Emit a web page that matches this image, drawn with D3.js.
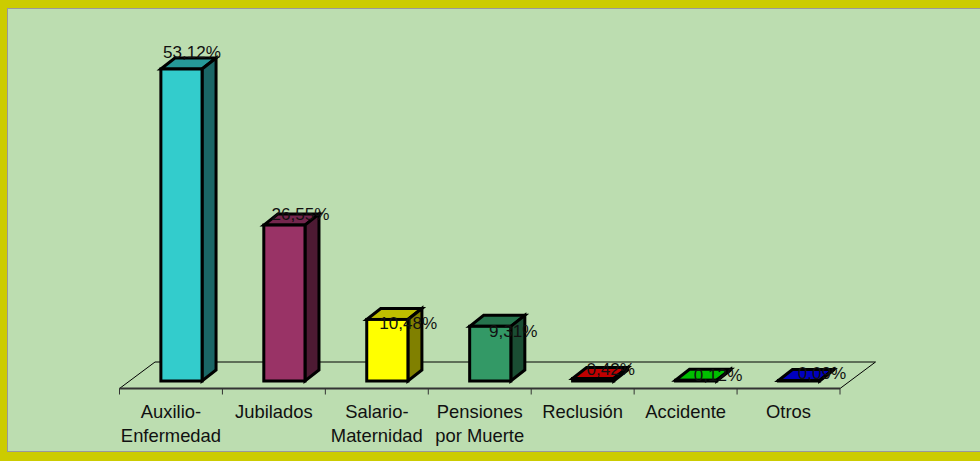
<!DOCTYPE html>
<html>
<head>
<meta charset="utf-8">
<script src="https://d3js.org/d3.v7.min.js"></script>
<style>
  html, body { margin: 0; padding: 0; background: #cccc00; }
  svg { display: block; }
  text { font-family: "Liberation Sans", Arial, sans-serif; fill: #111; }
</style>
</head>
<body>
<div id="chart"></div>
<script>
// data
var categories = ["Auxilio-|Enfermedad", "Jubilados", "Salario-|Maternidad", "Pensiones|por Muerte", "Reclusión", "Accidente", "Otros"];
var values = [53.12, 26.55, 10.48, 9.31, 0.42, 0.12, 0.09];
var barColors = ["#33cccc", "#993366", "#ffff00", "#339966", "#ff0000", "#00ff00", "#0000ff"];
// the labels sit a bit off the bars in the original, nudged by hand
var labelDx = [10.5, 16, 21, 23, 17.5, 22, 23];
var labelBase = [58, 220, 329, 337, 375, 381, 379];

var width = 980;
var height = 461;
var axisY = 388.5;
var baseY = 381;
var depth = {x: 14, y: -11};
var floor = {x: 35.5, y: -26.5};

var svg = d3.select("#chart")
  .append("svg")
  .attr("width", width)
  .attr("height", height);

// panel
svg.append("rect").attr("x", 0).attr("y", 0).attr("width", width).attr("height", height).attr("fill", "#cccc00");
svg.append("rect").attr("x", 7).attr("y", 8).attr("width", width - 7).attr("height", 444).attr("fill", "#999999");
svg.append("rect").attr("x", 8).attr("y", 9).attr("width", width - 8).attr("height", 442).attr("fill", "#bcddb0");

// scales
var x = d3.scaleBand()
  .domain(categories)
  .range([119.5, 840])
  .paddingInner(0)
  .paddingOuter(0);

var y = d3.scaleLinear()
  .domain([0, 53.12])
  .range([baseY, 69]);

var edge = d3.scaleLinear()
  .domain([0, categories.length])
  .range(x.range());

var barW = x.bandwidth() * 0.4;
var barX = function(d) { return x(d) + (x.bandwidth() - barW) / 2 + 10.5; };

// floor
var x0 = edge.range()[0], x1 = edge.range()[1];
svg.append("path")
  .attr("d", "M" + x0 + "," + axisY + "L" + (x0 + floor.x) + "," + (axisY + floor.y) +
    "L" + (x1 + floor.x) + "," + (axisY + floor.y) + "L" + x1 + "," + axisY)
  .attr("fill", "none")
  .attr("stroke", "#000")
  .attr("stroke-width", 1);

// axis with ticks on the band edges
var tickAxis = svg.append("g")
  .attr("transform", "translate(0," + axisY + ")")
  .call(d3.axisBottom(edge)
    .offset(0)
    .tickValues(d3.range(categories.length + 1))
    .tickFormat("")
    .tickSizeOuter(0)
    .tickSizeInner(6));
tickAxis.select(".domain").attr("stroke", "#333").attr("stroke-width", 2);
tickAxis.selectAll(".tick line").attr("stroke", "#333").attr("stroke-width", 1);

// category labels
var labelAxis = svg.append("g")
  .attr("transform", "translate(0,395)")
  .call(d3.axisBottom(x).offset(0).tickSize(0).tickFormat(""));
labelAxis.select(".domain").remove();
labelAxis.selectAll(".tick text").remove();
labelAxis.selectAll(".tick").append("text")
  .attr("text-anchor", "middle")
  .style("font-size", "18.4px")
  .each(function(d) {
    var t = d3.select(this);
    d.split("|").forEach(function(line, i) {
      t.append("tspan").attr("x", 0).attr("y", 23 + i * 23.5).text(line);
    });
  });

// bars
var bars = svg.selectAll(".bar")
  .data(categories)
  .enter().append("g")
  .attr("class", "bar")
  .attr("stroke", "#000")
  .attr("stroke-width", 3)
  .attr("stroke-linejoin", "miter");

// top
bars.append("path")
  .attr("fill", function(d, i) { return shade(barColors[i], 0.75); })
  .attr("d", function(d, i) {
    var l = barX(d), t = y(values[i]);
    return "M" + l + "," + t + "l" + depth.x + "," + depth.y + "h" + barW + "l" + (-depth.x) + "," + (-depth.y) + "Z";
  });

// side
bars.append("path")
  .attr("fill", function(d, i) { return shade(barColors[i], 0.5); })
  .attr("d", function(d, i) {
    var r = barX(d) + barW, t = y(values[i]);
    return "M" + r + "," + t + "l" + depth.x + "," + depth.y + "V" + (baseY + depth.y) + "l" + (-depth.x) + "," + (-depth.y) + "Z";
  });

// front
bars.append("rect")
  .attr("fill", function(d, i) { return barColors[i]; })
  .attr("x", function(d) { return barX(d); })
  .attr("y", function(d, i) { return y(values[i]); })
  .attr("width", barW)
  .attr("height", function(d, i) { return baseY - y(values[i]); });

// value labels
svg.selectAll(".value")
  .data(categories)
  .enter().append("text")
  .attr("class", "value")
  .attr("x", function(d, i) { return barX(d) + barW / 2 + labelDx[i]; })
  .attr("y", function(d, i) { return labelBase[i]; })
  .attr("text-anchor", "middle")
  .style("font-size", "17.1px")
  .text(function(d, i) { return values[i].toFixed(2).replace(".", ",") + "%"; });

function shade(c, k) {
  var r = d3.rgb(c);
  return d3.rgb(r.r * k, r.g * k, r.b * k).formatHex();
}
</script>
</body>
</html>
